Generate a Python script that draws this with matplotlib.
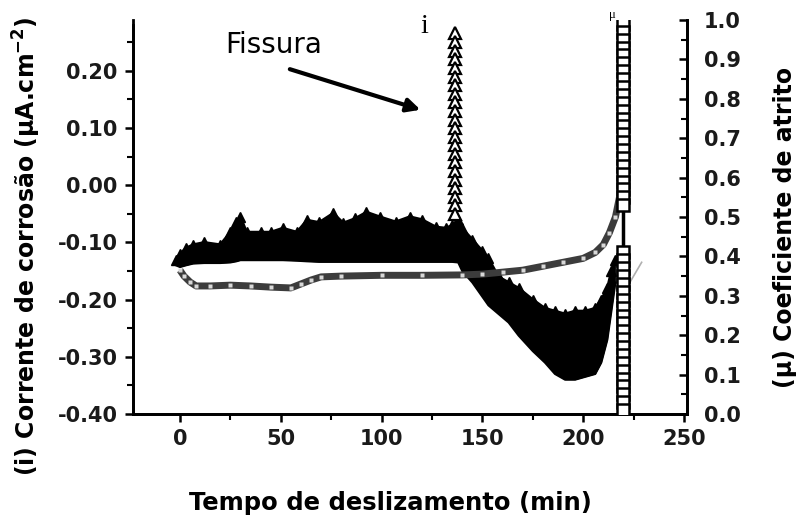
import matplotlib
matplotlib.use("Agg")
import matplotlib.pyplot as plt
from matplotlib.ticker import MultipleLocator, FormatStrFormatter

# ---------------- data ----------------
# corrosion current band (i), left axis, µA.cm-2
band_t = [-2, 0, 3, 6.5, 12, 20, 25, 28, 30, 33, 40, 45, 51, 58, 63, 69, 76, 81, 87, 92.5,
          99, 107, 114, 120, 127, 132, 135, 138, 140, 145, 150, 153, 158, 163, 168, 175,
          181, 186, 191, 196, 201, 206, 209, 212, 214, 216]
band_upper = [-0.13, -0.12, -0.11, -0.104, -0.10, -0.104, -0.082, -0.065, -0.055, -0.082,
              -0.082, -0.082, -0.075, -0.082, -0.061, -0.065, -0.049, -0.066, -0.058, -0.047,
              -0.055, -0.064, -0.055, -0.06, -0.073, -0.075, -0.07, -0.06, -0.075, -0.095,
              -0.115, -0.128, -0.16, -0.17, -0.18, -0.20, -0.215, -0.22, -0.225, -0.22,
              -0.22, -0.215, -0.20, -0.18, -0.15, -0.13]
band_lower = [-0.14, -0.143, -0.14, -0.137, -0.136, -0.136, -0.135, -0.133, -0.131, -0.131,
              -0.131, -0.131, -0.131, -0.132, -0.133, -0.134, -0.134, -0.134, -0.134, -0.134,
              -0.134, -0.134, -0.134, -0.134, -0.134, -0.134, -0.134, -0.135, -0.15, -0.17,
              -0.195, -0.21, -0.225, -0.24, -0.263, -0.29, -0.31, -0.33, -0.34, -0.34,
              -0.335, -0.33, -0.31, -0.27, -0.22, -0.17]

# crack spike of the current (i) at t = 137 min
spike_i_t = 136.6
spike_i_vals = [0.266, 0.25, 0.235, 0.22, 0.205, 0.19, 0.175, 0.16, 0.145, 0.13, 0.115,
                0.10, 0.085, 0.07, 0.055, 0.04, 0.025, 0.01, -0.005, -0.02, -0.035, -0.05]

# friction coefficient (mu), right axis
mu_t = [0, 2, 5, 8, 15, 25, 35, 45, 55, 60, 65, 70, 80, 100, 120, 140, 150, 160, 170,
        180, 190, 200, 206, 210, 213, 216, 218]
mu_vals = [0.365, 0.35, 0.335, 0.325, 0.325, 0.327, 0.325, 0.322, 0.32, 0.33, 0.34, 0.348,
           0.35, 0.352, 0.352, 0.353, 0.355, 0.36, 0.365, 0.375, 0.385, 0.395, 0.41, 0.43,
           0.46, 0.50, 0.55]

# final spike of mu at t = 220 min
spike_mu_t = 220
spike_mu_vals = [0.99, 0.97, 0.95, 0.93, 0.91, 0.89, 0.87, 0.85, 0.83, 0.81, 0.79, 0.77,
                 0.75, 0.73, 0.71, 0.69, 0.67, 0.65, 0.63, 0.61, 0.59, 0.57, 0.55, 0.53,
                 0.41, 0.39, 0.37, 0.35, 0.33, 0.31, 0.29, 0.27, 0.25, 0.23, 0.21, 0.19,
                 0.17, 0.15, 0.13, 0.11, 0.09, 0.07, 0.05, 0.03, 0.01]

# faint tail after the end of the test
tail_t = [222.7, 229]
tail_mu = [0.33, 0.385]

x_ticks = [0, 50, 100, 150, 200, 250]
left_ticks = [-0.40, -0.30, -0.20, -0.10, 0.00, 0.10, 0.20]
right_ticks = [0.0, 0.1, 0.2, 0.3, 0.4, 0.5, 0.6, 0.7, 0.8, 0.9, 1.0]

# ---------------- figure ----------------
FONT = "DejaVu Sans"
plt.rcParams["mathtext.fontset"] = "dejavusans"
fig = plt.figure(figsize=(7.99, 5.19), dpi=100)
ax = fig.add_axes([133 / 799, 1 - 414 / 519, (687 - 133) / 799, (414 - 20) / 519])
ax2 = ax.twinx()

ax.set_xlim(-23.3, 251.5)
ax.set_ylim(-0.40, 0.289)
ax2.set_ylim(0.0, 1.0)

# band of current
ax.fill_between(band_t, band_lower, band_upper, color="black", lw=0, zorder=2)
ax.plot(band_t, band_upper, color="black", lw=2, marker="^", ms=7, mfc="black",
        mec="black", zorder=3)
ax.plot(band_t, band_lower, color="black", lw=1.5, zorder=3)

# crack spike
ax.plot([spike_i_t] * len(spike_i_vals), spike_i_vals, color="black", lw=2.5,
        marker="^", ms=8, mfc="white", mec="black", mew=1.6, zorder=4)

# friction coefficient
ax2.plot(mu_t, mu_vals, color="#3c3c3c", lw=5, solid_capstyle="butt", zorder=3)
ax2.plot(mu_t, mu_vals, ls="none", marker="s", ms=3.2, mfc="#d8d8d8", mec="none",
         zorder=4)
ax2.plot([spike_mu_t] * len(spike_mu_vals), spike_mu_vals, color="black", lw=2.5,
         marker="s", ms=8.5, mfc="white", mec="black", mew=1.8, zorder=4)
ax2.plot(tail_t, tail_mu, color="#b0b0b0", lw=1.2, zorder=2)

# spines
for a in (ax, ax2):
    a.spines["top"].set_visible(False)
    for s in ("left", "right", "bottom"):
        a.spines[s].set_linewidth(2)
ax.spines["left"].set_bounds(-0.40, 0.28)
ax2.spines["right"].set_bounds(0.0, 1.0)

# ticks
ax.set_xticks(x_ticks)
ax.xaxis.set_minor_locator(MultipleLocator(25))
ax.set_yticks(left_ticks)
ax.yaxis.set_minor_locator(MultipleLocator(0.05))
ax.yaxis.set_major_formatter(FormatStrFormatter("%.2f"))
ax2.set_yticks(right_ticks)
ax2.yaxis.set_minor_locator(MultipleLocator(0.05))
ax2.yaxis.set_major_formatter(FormatStrFormatter("%.1f"))

ax.tick_params(axis="both", which="major", direction="out", length=6, width=1.8,
               pad=5, colors="black", labelcolor="#1a1a1a")
ax.tick_params(axis="both", which="minor", direction="out", length=4, width=1.5)
ax2.tick_params(axis="y", which="major", direction="in", length=6, width=1.8, pad=12,
                labelcolor="#1a1a1a")
ax2.tick_params(axis="y", which="minor", direction="in", length=4, width=1.5)
for lab in ax.get_xticklabels() + ax.get_yticklabels() + ax2.get_yticklabels():
    lab.set_fontfamily(FONT)
    lab.set_fontweight("bold")
    lab.set_fontsize(15)

# axis labels
fig.text(27 / 799, 1 - 246 / 519, r"(i) Corrente de corrosão (μA.cm$^{\mathbf{-2}}$)",
         rotation=90, ha="center", va="center", family=FONT, weight="bold", size=17)
fig.text(785 / 799, 1 - 227 / 519, "(μ) Coeficiente de atrito", rotation=90,
         ha="center", va="center", family=FONT, weight="bold", size=17)
fig.text(390 / 799, 1 - 503 / 519, "Tempo de deslizamento (min)", ha="center",
         va="center", family=FONT, weight="bold", size=17.5)

# annotations
ax.text(46.5, 0.245, "Fissura", ha="center", va="center", family=FONT, size=20)
ax.annotate("", xy=(119.3, 0.132), xytext=(54.5, 0.203),
            arrowprops=dict(arrowstyle="-|>", lw=3, color="black", mutation_scale=20,
                            shrinkA=0, shrinkB=0))
ax.text(121.3, 0.277, "i", ha="center", va="center", family="Liberation Serif",
        size=20, clip_on=False)
ax.text(214.4, 0.297, "μ", ha="center", va="center", family="Liberation Serif",
        size=9, clip_on=False)

fig.savefig("out.png", dpi=100)
